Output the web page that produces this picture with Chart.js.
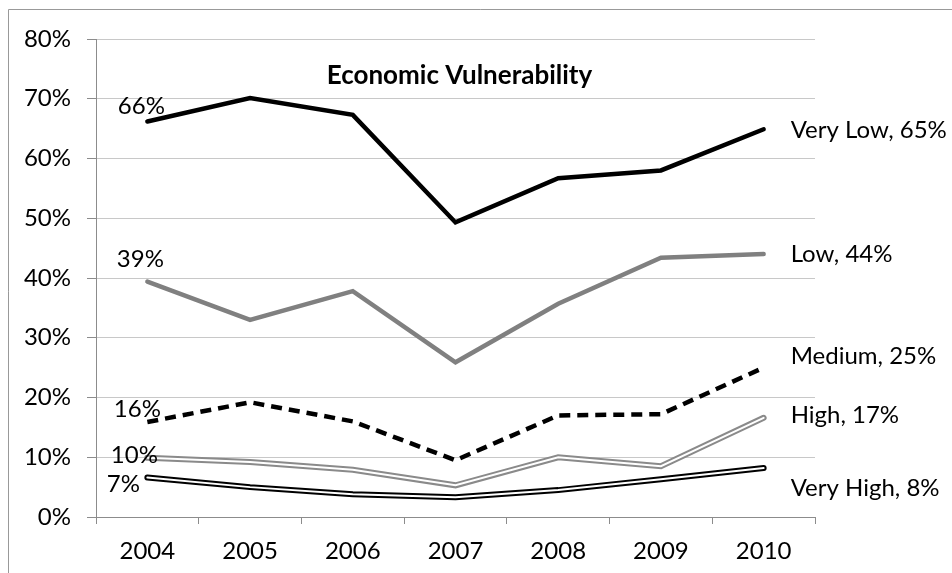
<!DOCTYPE html>
<html>
<head>
<meta charset="utf-8">
<script src="https://cdn.jsdelivr.net/npm/chart.js@4.4.1/dist/chart.umd.min.js"></script>
<style>
  body { margin: 0; background: #fff; }
</style>
</head>
<body>
<canvas id="vulnChart" width="952" height="573"></canvas>
<script>
// data (percent)
const years = ['2004', '2005', '2006', '2007', '2008', '2009', '2010'];
const veryLow = [66.2, 70.1, 67.3, 49.3, 56.7, 58.0, 64.9];
const low = [39.4, 33.0, 37.8, 25.9, 35.7, 43.4, 44.0];
const medium = [15.9, 19.2, 16.0, 9.5, 17.0, 17.2, 25.0];
const high = [9.9, 9.2, 7.9, 5.3, 10.0, 8.5, 16.6];
const veryHigh = [6.6, 5.0, 3.8, 3.3, 4.5, 6.3, 8.2];
const seriesNames = ['Very Low', 'Low', 'Medium', 'High', 'Very High'];
const yTicks = [0, 10, 20, 30, 40, 50, 60, 70, 80];
const chartTitle = 'Economic Vulnerability';

const FONT = 'Lato';
Chart.defaults.font.family = FONT;
Chart.defaults.font.size = 24;
Chart.defaults.color = '#000';

// label placement for each series: [dx, dy] of the first value, dy of the end label
const labelStyle = [
    { start: [-6, -15], end: 1 },
    { start: [-7, -22], end: 0 },
    { start: [-10, -13], end: -11 },
    { start: [-13, -3], end: -3 },
    { start: [-24, 7], end: 20 }
];

function lineSet(values, color, width, extra) {
    return Object.assign({
        data: values,
        borderColor: color,
        borderWidth: width,
        pointRadius: 0,
        tension: 0,
        fill: false,
        borderJoinStyle: 'miter',
        borderCapStyle: 'round',
        order: 1
    }, extra || {});
}

const seriesData = [veryLow, low, medium, high, veryHigh];

const datasets = [
    lineSet(veryLow, '#000', 4.5),
    lineSet(low, '#808080', 4.5),
    lineSet(medium, '#000', 4.5, { borderDash: [11, 7], borderCapStyle: 'butt' }),
    lineSet(high, '#8a8a8a', 6),
    lineSet(high, '#fff', 2, { order: 0 }),
    lineSet(veryHigh, '#000', 6),
    lineSet(veryHigh, '#fff', 2, { order: 0 })
];
// dataset index that carries each series' label
const labelIndex = [0, 1, 2, 3, 5];

const framePlugin = {
    id: 'frame',
    beforeDraw(chart) {
        const ctx = chart.ctx;
        ctx.save();
        ctx.strokeStyle = '#999';
        ctx.lineWidth = 1;
        ctx.beginPath();
        ctx.moveTo(8.5, 573);
        ctx.lineTo(8.5, 9.5);
        ctx.lineTo(952, 9.5);
        ctx.stroke();
        ctx.restore();
    }
};

const labelPlugin = {
    id: 'seriesLabels',
    afterDatasetsDraw(chart) {
        const ctx = chart.ctx;
        const area = chart.chartArea;
        ctx.save();
        ctx.fillStyle = '#000';
        ctx.textBaseline = 'middle';

        ctx.font = 'bold 26px ' + FONT;
        ctx.textAlign = 'center';
        ctx.fillText(chartTitle, (area.left + area.right) / 2 + 4, 76);

        ctx.font = '24px ' + FONT;
        seriesNames.forEach(function(name, i) {
            const pts = chart.getDatasetMeta(labelIndex[i]).data;
            const values = seriesData[i];
            const first = pts[0];
            const last = pts[pts.length - 1];
            ctx.textAlign = 'center';
            ctx.fillText(Math.round(values[0]) + '%', first.x + labelStyle[i].start[0], first.y + labelStyle[i].start[1]);
            ctx.textAlign = 'left';
            ctx.fillText(name + ', ' + Math.round(values[values.length - 1]) + '%', last.x + 27, last.y + labelStyle[i].end);
        });
        ctx.restore();
    }
};

var ctx = document.getElementById('vulnChart').getContext('2d');
var vulnChart = new Chart(ctx, {
    type: 'line',
    data: {
        labels: years,
        datasets: datasets
    },
    options: {
        responsive: false,
        animation: false,
        layout: {
            padding: { top: 39, right: 137, bottom: 0, left: 0 }
        },
        plugins: {
            legend: { display: false },
            tooltip: { enabled: false },
            title: { display: false }
        },
        scales: {
            x: {
                offset: true,
                grid: {
                    offset: true,
                    drawOnChartArea: false,
                    tickLength: 7,
                    tickColor: '#8c8c8c'
                },
                border: { color: '#8c8c8c' },
                ticks: { padding: 13, maxRotation: 0 },
                afterFit(scale) { scale.height = 56; }
            },
            y: {
                min: yTicks[0],
                max: yTicks[yTicks.length - 1],
                afterBuildTicks(scale) {
                    scale.ticks = yTicks.map(function(v) { return { value: v }; });
                },
                grid: {
                    color: '#c8c8c8',
                    tickLength: 9,
                    tickColor: '#8c8c8c'
                },
                border: { color: '#8c8c8c' },
                ticks: {
                    padding: 16,
                    callback: function(v) { return v + '%'; }
                },
                afterFit(scale) { scale.width = 96; }
            }
        }
    },
    plugins: [framePlugin, labelPlugin]
});
</script>
</body>
</html>
